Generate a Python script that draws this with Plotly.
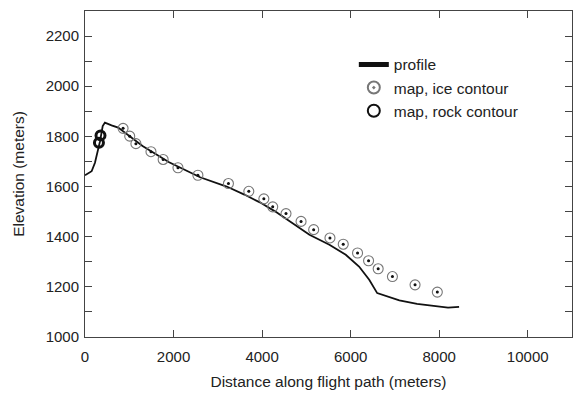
import plotly.graph_objects as go

# Profile (flight-path elevation)
profile_x = [0, 150, 225, 340, 400, 450, 600, 750, 1300, 1900, 2600, 3200, 3600, 3950,
             4300, 4620, 5070, 5520, 5890, 6190, 6420, 6600, 6800, 7100, 7500, 7900, 8200, 8450]
profile_y = [1645, 1661, 1695, 1781, 1841, 1855, 1844, 1835, 1762, 1697, 1637, 1600, 1568, 1537,
             1500, 1461, 1408, 1368, 1328, 1281, 1228, 1175, 1164, 1146, 1132, 1124, 1117, 1120]

# Map, ice contour points
ice_x = [860, 1010, 1150, 1490, 1765, 2100, 2550, 3240, 3700, 4040, 4240, 4540,
         4880, 5165, 5533, 5833, 6156, 6405, 6622, 6944, 7455, 7958]
ice_y = [1832, 1801, 1771, 1739, 1708, 1675, 1645, 1612, 1581, 1551, 1519, 1492,
         1461, 1428, 1395, 1370, 1335, 1304, 1272, 1241, 1208, 1179]

# Map, rock contour points
rock_x = [350, 315]
rock_y = [1804, 1775]

# Tick labels
x_ticks = [0, 2000, 4000, 6000, 8000, 10000]
x_labels = ["0", "2000", "4000", "6000", "8000", "10000"]
y_ticks = [1000, 1200, 1400, 1600, 1800, 2000, 2200]
y_labels = ["1000", "1200", "1400", "1600", "1800", "2000", "2200"]

FONT = "Liberation Sans, Arial, sans-serif"
TXT = "#222222"

fig = go.Figure()
fig.add_trace(go.Scatter(x=profile_x, y=profile_y, mode="lines", name="profile",
                         line=dict(color="#111111", width=1.8)))
fig.add_trace(go.Scatter(x=ice_x, y=ice_y, mode="markers", name="map, ice contour",
                         legendgroup="ice",
                         marker=dict(symbol="circle-open-dot", size=10, color="#777777",
                                     line=dict(color="#777777", width=1.1))))
fig.add_trace(go.Scatter(x=ice_x, y=ice_y, mode="markers", showlegend=False,
                         legendgroup="ice", hoverinfo="skip",
                         marker=dict(symbol="circle", size=3, color="#111111",
                                     line=dict(width=0))))
fig.add_trace(go.Scatter(x=rock_x, y=rock_y, mode="markers", name="map, rock contour",
                         marker=dict(symbol="circle-open", size=9, color="#111111",
                                     line=dict(color="#111111", width=3))))

axis_common = dict(showgrid=False, zeroline=False, showline=True, linecolor="#444444",
                   linewidth=1, ticks="inside", ticklen=7, tickcolor="#444444",
                   mirror="ticks", automargin=False,
                   tickfont=dict(family=FONT, size=15, color=TXT),
                   title_font=dict(family=FONT, size=15.5, color=TXT))

fig.update_xaxes(range=[0, 11000], tickvals=x_ticks, ticktext=x_labels,
                 ticklabelstandoff=6,
                 title_text="Distance along flight path (meters)", title_standoff=12,
                 **axis_common)
fig.update_yaxes(range=[1000, 2300], tickvals=y_ticks, ticktext=y_labels,
                 ticklabelstandoff=2,
                 minor=dict(dtick=100, ticks="inside", ticklen=7, tickcolor="#444444"),
                 title_text="Elevation (meters)", title_standoff=17,
                 **axis_common)

# page body has an 8px default margin; size the figure so the plot area lands
# at x 85..572, y 11..337 of the 581x396 window
fig.update_layout(
    width=573, height=388,
    margin=dict(l=77, r=9, t=3, b=59, autoexpand=False),
    paper_bgcolor="white", plot_bgcolor="white",
    font=dict(family=FONT, size=15, color=TXT),
    legend=dict(x=0.552, y=0.887, xanchor="left", yanchor="top",
                bgcolor="rgba(0,0,0,0)", borderwidth=0,
                font=dict(family=FONT, size=15.5, color=TXT),
                tracegroupgap=0, itemsizing="constant"),
    showlegend=True,
)

fig.write_html("out.html")
